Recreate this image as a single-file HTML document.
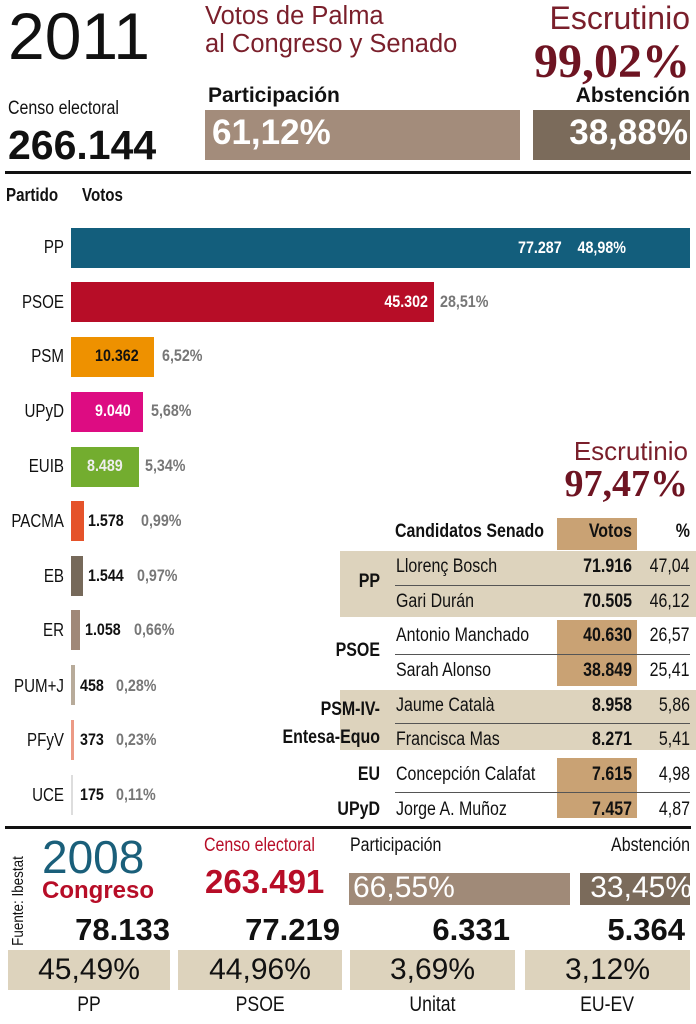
<!DOCTYPE html>
<html><head><meta charset="utf-8"><style>
body{margin:0;width:696px;height:1024px;background:#fff;position:relative;overflow:hidden;font-family:"Liberation Sans Narrow","Liberation Sans",sans-serif;color:#111}
div{position:absolute;white-space:nowrap}
.b{font-weight:bold}
.r{text-align:right}
.c{text-align:center}
.t{transform:scaleX(.84);transform-origin:0 0}
.t.r{transform-origin:100% 0}
.c span{display:inline-block;transform:scaleX(.84)}
.c.u span{transform:none}
.ser{font-family:"Liberation Serif",serif}
.bar{height:40px}
.lab{left:0;width:64px;text-align:right;font-size:18px}
.pct{color:#777;font-weight:bold;font-size:17px}
.v{font-weight:bold;font-size:17px}
.tr{font-size:19px}
</style></head><body>
<div style="left:8px;top:0;font-size:66px;line-height:72px">2011</div>
<div style="left:205px;top:2px;font-size:25.5px;line-height:28px;color:#7a1f2b">Votos de Palma<br>al Congreso y Senado</div>
<div style="right:6px;top:0px;font-size:32px;color:#7a1f2b">Escrutinio</div>
<div class="ser b" style="right:6px;top:34px;font-size:48px;color:#6e1422">99,02%</div>
<div class="t" style="left:8px;top:98px;font-size:19px">Censo electoral</div>
<div class="b" style="left:8px;top:122px;font-size:41px">266.144</div>
<div class="b" style="left:208px;top:84px;font-size:21px">Participación</div>
<div class="b r" style="right:6px;top:84px;font-size:21px">Abstención</div>
<div style="left:205px;top:110px;width:315px;height:50px;background:#a38c7b"></div>
<div class="b" style="left:212px;top:113px;font-size:35px;color:#fff">61,12%</div>
<div style="left:533px;top:110px;width:157px;height:50px;background:#7b6b5b"></div>
<div class="b r" style="right:8px;top:113px;font-size:35px;color:#fff">38,88%</div>
<div style="left:5px;top:171px;width:686px;height:3px;background:#111"></div>
<div class="b t" style="left:6px;top:185px;font-size:18px">Partido</div>
<div class="b t" style="left:82px;top:185px;font-size:18px">Votos</div>

<!-- bars -->
<div class="lab t r" style="top:237px">PP</div>
<div class="bar" style="left:71px;top:228px;width:619px;background:#135e7c"></div>
<div class="v t" style="left:518px;top:238px;color:#fff">77.287&nbsp;&nbsp;&nbsp;&nbsp;48,98%</div>
<div class="lab t r" style="top:292px">PSOE</div>
<div class="bar" style="left:71px;top:282px;width:363px;background:#b70d27"></div>
<div class="v r t" style="left:300px;width:128px;top:292px;color:#fff">45.302</div>
<div class="pct t" style="left:440px;top:292px">28,51%</div>
<div class="lab t r" style="top:346px">PSM</div>
<div class="bar" style="left:71px;top:337px;width:83px;background:#ee9100"></div>
<div class="v t" style="left:95px;top:346px">10.362</div><div class="pct t" style="left:162px;top:346px">6,52%</div>
<div class="lab t r" style="top:401px">UPyD</div>
<div class="bar" style="left:71px;top:392px;width:72px;background:#dd0c82"></div>
<div class="v t" style="left:95px;top:401px;color:#fff">9.040</div><div class="pct t" style="left:151px;top:401px">5,68%</div>
<div class="lab t r" style="top:456px">EUIB</div>
<div class="bar" style="left:71px;top:447px;width:68px;background:#73ad2f"></div>
<div class="v t" style="left:87px;top:456px;color:#eee">8.489</div><div class="pct t" style="left:145px;top:456px">5,34%</div>
<div class="lab t r" style="top:511px">PACMA</div>
<div class="bar" style="left:71px;top:501px;width:13px;background:#e5532a"></div>
<div class="v t" style="left:88px;top:511px">1.578</div><div class="pct t" style="left:141px;top:511px">0,99%</div>
<div class="lab t r" style="top:566px">EB</div>
<div class="bar" style="left:71px;top:556px;width:12px;background:#76695a"></div>
<div class="v t" style="left:88px;top:566px">1.544</div><div class="pct t" style="left:137px;top:566px">0,97%</div>
<div class="lab t r" style="top:620px">ER</div>
<div class="bar" style="left:71px;top:610px;width:9px;background:#a08878"></div>
<div class="v t" style="left:85px;top:620px">1.058</div><div class="pct t" style="left:134px;top:620px">0,66%</div>
<div class="lab t r" style="top:676px">PUM+J</div>
<div class="bar" style="left:71px;top:665px;width:4px;background:#b8ab9a"></div>
<div class="v t" style="left:80px;top:676px">458</div><div class="pct t" style="left:116px;top:676px">0,28%</div>
<div class="lab t r" style="top:730px">PFyV</div>
<div class="bar" style="left:71px;top:720px;width:3px;background:#ec9a85"></div>
<div class="v t" style="left:80px;top:730px">373</div><div class="pct t" style="left:116px;top:730px">0,23%</div>
<div class="lab t r" style="top:785px">UCE</div>
<div class="bar" style="left:71px;top:775px;width:2px;background:#ddd"></div>
<div class="v t" style="left:80px;top:785px">175</div><div class="pct t" style="left:116px;top:785px">0,11%</div>

<!-- senado -->
<div style="right:8px;top:436px;font-size:26px;color:#7a1f2b">Escrutinio</div>
<div class="ser b" style="right:8px;top:462px;font-size:38px;color:#6e1422">97,47%</div>
<div style="left:557px;top:518px;width:80px;height:32px;background:#c9a274"></div>
<div style="left:340px;top:551px;width:356px;height:66px;background:#ddd3bd"></div>
<div style="left:557px;top:620px;width:80px;height:66px;background:#c9a274"></div>
<div style="left:340px;top:690px;width:356px;height:60px;background:#ddd3bd"></div>
<div style="left:557px;top:758px;width:80px;height:60px;background:#c9a274"></div>
<div class="b tr t" style="left:395px;top:521px">Candidatos Senado</div>
<div class="b tr t r" style="left:540px;width:92px;top:521px">Votos</div>
<div class="b tr t r" style="right:6px;top:521px">%</div>
<div style="left:395px;top:585px;width:295px;height:1px;background:#555"></div>
<div style="left:395px;top:654px;width:295px;height:1px;background:#555"></div>
<div style="left:395px;top:723px;width:295px;height:1px;background:#555"></div>
<div style="left:395px;top:792px;width:295px;height:1px;background:#555"></div>
<div class="b tr r t" style="left:280px;width:100px;top:571px">PP</div>
<div class="b tr r t" style="left:280px;width:100px;top:640px">PSOE</div>
<div class="b tr r t" style="left:230px;width:150px;top:696px;line-height:28px">PSM-IV-<br>Entesa-Equo</div>
<div class="b tr r t" style="left:280px;width:100px;top:764px">EU</div>
<div class="b tr r t" style="left:280px;width:100px;top:799px">UPyD</div>
<div class="tr t" style="left:396px;top:556px">Llorenç Bosch</div>
<div class="tr t" style="left:396px;top:591px">Gari Durán</div>
<div class="tr t" style="left:396px;top:625px">Antonio Manchado</div>
<div class="tr t" style="left:396px;top:660px">Sarah Alonso</div>
<div class="tr t" style="left:396px;top:695px">Jaume Català</div>
<div class="tr t" style="left:396px;top:729px">Francisca Mas</div>
<div class="tr t" style="left:396px;top:764px">Concepción Calafat</div>
<div class="tr t" style="left:396px;top:799px">Jorge A. Muñoz</div>
<div class="b tr r t" style="left:540px;width:92px;top:556px">71.916</div>
<div class="b tr r t" style="left:540px;width:92px;top:591px">70.505</div>
<div class="b tr r t" style="left:540px;width:92px;top:625px">40.630</div>
<div class="b tr r t" style="left:540px;width:92px;top:660px">38.849</div>
<div class="b tr r t" style="left:540px;width:92px;top:695px">8.958</div>
<div class="b tr r t" style="left:540px;width:92px;top:729px">8.271</div>
<div class="b tr r t" style="left:540px;width:92px;top:764px">7.615</div>
<div class="b tr r t" style="left:540px;width:92px;top:799px">7.457</div>
<div class="tr r t" style="right:6px;top:556px">47,04</div>
<div class="tr r t" style="right:6px;top:591px">46,12</div>
<div class="tr r t" style="right:6px;top:625px">26,57</div>
<div class="tr r t" style="right:6px;top:660px">25,41</div>
<div class="tr r t" style="right:6px;top:695px">5,86</div>
<div class="tr r t" style="right:6px;top:729px">5,41</div>
<div class="tr r t" style="right:6px;top:764px">4,98</div>
<div class="tr r t" style="right:6px;top:799px">4,87</div>
<div style="left:5px;top:826px;width:686px;height:3px;background:#111"></div>

<!-- 2008 -->
<div style="left:-36px;top:892px;font-size:16px;transform:rotate(-90deg) scaleX(.84);width:110px;text-align:center">Fuente: Ibestat</div>
<div style="left:42px;top:832px;font-size:46px;color:#1a5f7a;line-height:50px">2008</div>
<div class="b" style="left:42px;top:877px;font-size:24px;color:#b70d27">Congreso</div>
<div class="t" style="left:204px;top:835px;font-size:19px;color:#b70d27">Censo electoral</div>
<div class="b" style="left:205px;top:863px;font-size:33px;color:#b70d27">263.491</div>
<div class="t" style="left:350px;top:835px;font-size:19px">Participación</div>
<div class="t r" style="right:6px;top:835px;font-size:19px">Abstención</div>
<div style="left:349px;top:873px;width:221px;height:32px;background:#a08a78"></div>
<div style="left:353px;top:871px;font-size:30px;color:#fff">66,55%</div>
<div style="left:580px;top:873px;width:110px;height:32px;background:#7b6b5b"></div>
<div class="r" style="right:4px;top:871px;font-size:30px;color:#fff">33,45%</div>
<div class="b r" style="left:40px;width:130px;top:912px;font-size:31px">78.133</div>
<div class="b r" style="left:210px;width:130px;top:912px;font-size:31px">77.219</div>
<div class="b r" style="left:380px;width:130px;top:912px;font-size:31px">6.331</div>
<div class="b r" style="left:555px;width:130px;top:912px;font-size:31px">5.364</div>
<div class="c u" style="left:8px;top:950px;width:162px;height:40px;background:#ddd3bd;font-size:30px;line-height:40px"><span>45,49%</span></div>
<div class="c u" style="left:178px;top:950px;width:164px;height:40px;background:#ddd3bd;font-size:30px;line-height:40px"><span>44,96%</span></div>
<div class="c u" style="left:350px;top:950px;width:165px;height:40px;background:#ddd3bd;font-size:30px;line-height:40px"><span>3,69%</span></div>
<div class="c u" style="left:525px;top:950px;width:165px;height:40px;background:#ddd3bd;font-size:30px;line-height:40px"><span>3,12%</span></div>
<div class="c" style="left:8px;width:162px;top:993px;font-size:21px"><span>PP</span></div>
<div class="c" style="left:178px;width:164px;top:993px;font-size:21px"><span>PSOE</span></div>
<div class="c" style="left:350px;width:165px;top:993px;font-size:21px"><span>Unitat</span></div>
<div class="c" style="left:525px;width:165px;top:993px;font-size:21px"><span>EU-EV</span></div>
</body></html>
